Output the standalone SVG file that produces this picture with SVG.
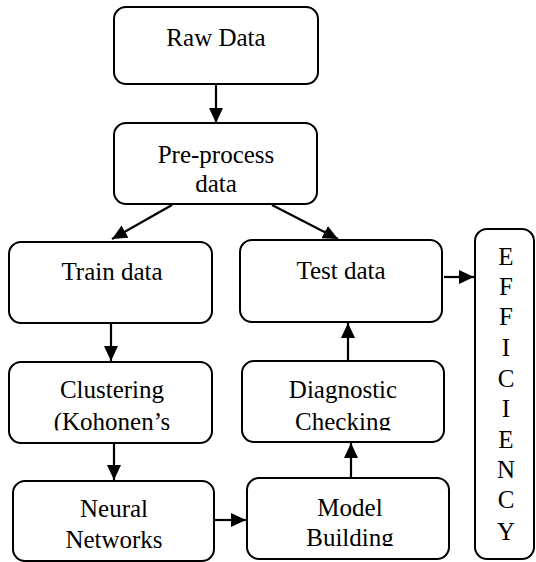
<svg xmlns="http://www.w3.org/2000/svg" width="536" height="562" viewBox="0 0 536 562">
<style>
.box{fill:#fff;stroke:#000;stroke-width:2}
.t{font-family:'Liberation Serif', 'Times New Roman', Times, serif;font-size:25px;fill:#000;text-anchor:middle}
.c{stroke:#000;stroke-width:2.2;fill:none}
</style>
<defs>
<marker id="ah" markerWidth="15" markerHeight="15" viewBox="0 0 15 15" refX="15" refY="7.5" orient="auto" markerUnits="userSpaceOnUse">
<path d="M0,0.5 L15,7.5 L0,14.5 Z" fill="#000"/>
</marker>
<clipPath id="clipA"><rect x="0" y="360" width="536" height="70.5"/></clipPath>
<clipPath id="clipB"><rect x="0" y="478" width="536" height="68"/></clipPath>
</defs>
<rect width="536" height="562" fill="#fff"/>
<g id="raw"><rect class="box" x="114" y="7" width="204" height="77" rx="12"/><text class="t" x="216" y="46">Raw Data</text></g>
<g id="pre"><rect class="box" x="114" y="123" width="203" height="81" rx="12"/><text class="t" x="216" y="163">Pre-process</text><text class="t" x="216" y="192">data</text></g>
<g id="train"><rect class="box" x="9" y="242" width="203" height="81" rx="12"/><text class="t" x="112" y="280">Train data</text></g>
<g id="test"><rect class="box" x="240" y="240" width="202" height="82" rx="12"/><text class="t" x="341" y="279">Test data</text></g>
<g id="clust"><rect class="box" x="9" y="362" width="203" height="81" rx="12"/><g clip-path="url(#clipA)"><text class="t" x="112" y="398">Clustering</text><text class="t" x="112" y="430">(Kohonen’s</text></g></g>
<g id="diag"><rect class="box" x="242" y="361" width="202" height="81" rx="12"/><g clip-path="url(#clipA)"><text class="t" x="343" y="398">Diagnostic</text><text class="t" x="343" y="430">Checking</text></g></g>
<g id="neural"><rect class="box" x="13" y="481" width="201" height="80" rx="12"/><text class="t" x="114" y="517">Neural</text><text class="t" x="114" y="548">Networks</text></g>
<g id="model"><rect class="box" x="247" y="478" width="202" height="81" rx="12"/><g clip-path="url(#clipB)"><text class="t" x="350" y="516">Model</text><text class="t" x="350" y="546">Building</text></g></g>
<g id="eff"><rect class="box" x="475" y="229" width="59" height="330" rx="12"/>
<text class="t" x="506" y="265">E</text><text class="t" x="506" y="295">F</text><text class="t" x="506" y="325">F</text><text class="t" x="506" y="356">I</text><text class="t" x="506" y="387">C</text><text class="t" x="506" y="417">I</text><text class="t" x="506" y="448">E</text><text class="t" x="506" y="478">N</text><text class="t" x="506" y="508">C</text><text class="t" x="506" y="540">Y</text></g>
<g id="connectors">
<line class="c" x1="216" y1="84" x2="216" y2="123" marker-end="url(#ah)"/>
<line class="c" x1="172" y1="205" x2="112" y2="239" marker-end="url(#ah)"/>
<line class="c" x1="272" y1="205" x2="338" y2="239" marker-end="url(#ah)"/>
<line class="c" x1="111" y1="323" x2="111" y2="361" marker-end="url(#ah)"/>
<line class="c" x1="114" y1="443" x2="114" y2="480" marker-end="url(#ah)"/>
<line class="c" x1="214" y1="520" x2="246" y2="520" marker-end="url(#ah)"/>
<line class="c" x1="351" y1="478" x2="351" y2="443" marker-end="url(#ah)"/>
<line class="c" x1="348" y1="361" x2="348" y2="323" marker-end="url(#ah)"/>
<line class="c" x1="444" y1="277" x2="474" y2="277" marker-end="url(#ah)"/>
</g>
</svg>
